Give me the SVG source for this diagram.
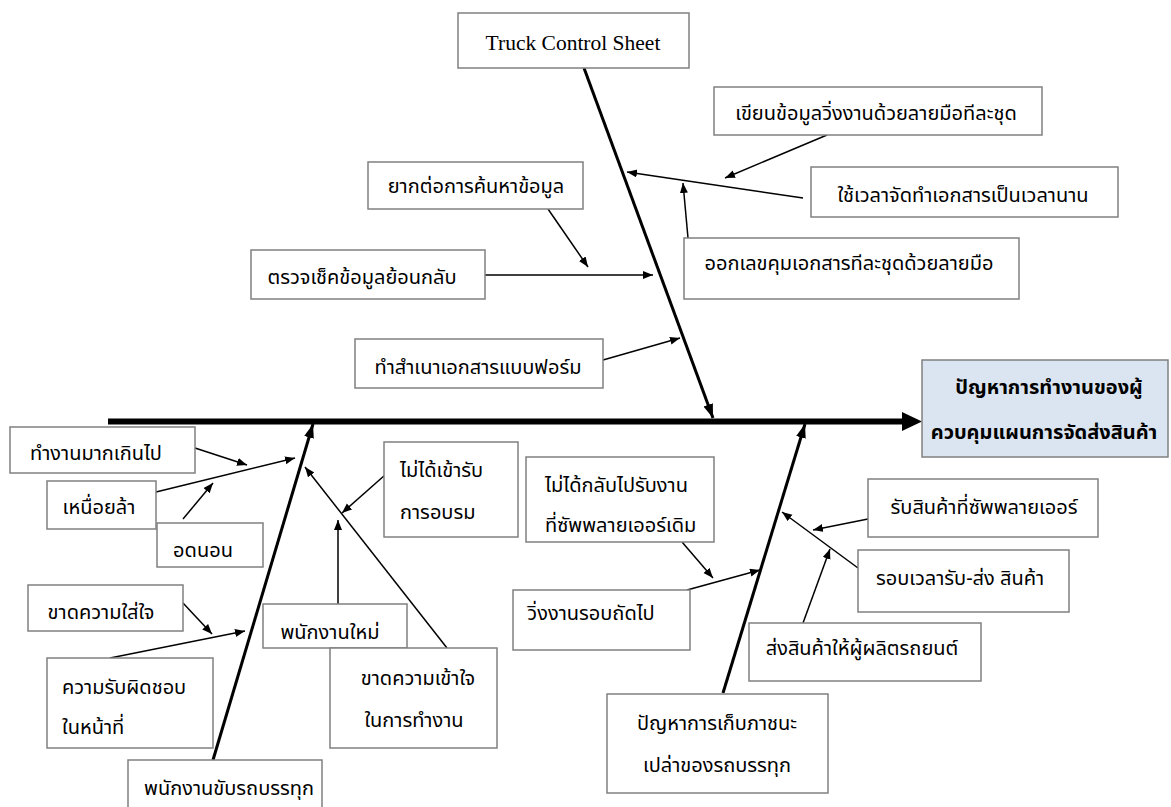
<svg xmlns="http://www.w3.org/2000/svg" width="1171" height="807" viewBox="0 0 1171 807">
<style>
.box{fill:#ffffff;stroke:#808080;stroke-width:1.5}
.eff{fill:#dbe5f1;stroke:#808080;stroke-width:1.5}
.t{font-family:"Noto Sans Thai","Noto Sans","DejaVu Sans",sans-serif;font-size:20px;fill:#000;text-anchor:middle}
.ts{font-family:"Noto Sans Thai","Noto Sans","DejaVu Sans",sans-serif;font-size:20px;fill:#000;text-anchor:start}
.b{font-weight:bold}
.en{font-family:"Liberation Serif","Times New Roman",serif;font-size:21.5px;fill:#000;text-anchor:middle}
.thin{stroke:#000;stroke-width:1.5;fill:none;marker-end:url(#ah)}
.spine{stroke:#000;stroke-width:3;fill:none;marker-end:url(#ahb)}
</style>
<defs>
<marker id="ah" markerUnits="userSpaceOnUse" markerWidth="11" markerHeight="9" refX="10" refY="4" orient="auto">
<path d="M0,0 L10,4 L0,8 z" fill="#000"/>
</marker>
<marker id="ahb" markerUnits="userSpaceOnUse" markerWidth="15" markerHeight="11" refX="14" refY="5" orient="auto">
<path d="M0,0 L14,5 L0,10 z" fill="#000"/>
</marker>
</defs>
<rect width="1171" height="807" fill="#ffffff"/>
<g id="connectors">
<line x1="108" y1="421.5" x2="904" y2="421.5" stroke="#000" stroke-width="6"/>
<polygon points="902,412 922,421.5 902,431" fill="#000"/>
<line class="spine" x1="584" y1="68" x2="713" y2="418"/>
<line class="spine" x1="213" y1="760" x2="313" y2="424"/>
<line class="spine" x1="723" y1="693" x2="805" y2="424"/>
<line class="thin" x1="827" y1="135" x2="725" y2="178"/>
<line class="thin" x1="803" y1="198" x2="627" y2="172"/>
<line class="thin" x1="688" y1="238" x2="683" y2="183"/>
<line class="thin" x1="548" y1="209" x2="588" y2="267"/>
<line class="thin" x1="485" y1="275" x2="653" y2="275"/>
<line class="thin" x1="603" y1="360" x2="680" y2="338"/>
<line class="thin" x1="195" y1="448" x2="247" y2="465"/>
<line class="thin" x1="156" y1="492" x2="295" y2="458"/>
<line class="thin" x1="183" y1="519" x2="213" y2="483"/>
<line class="thin" x1="447" y1="648" x2="305" y2="467"/>
<line class="thin" x1="385" y1="475" x2="342" y2="513"/>
<line class="thin" x1="338" y1="605" x2="338" y2="520"/>
<line class="thin" x1="183" y1="603" x2="212" y2="634"/>
<line class="thin" x1="110" y1="658" x2="245" y2="631"/>
<line class="thin" x1="682" y1="542" x2="713" y2="578"/>
<line class="thin" x1="687" y1="590" x2="760" y2="570"/>
<line class="thin" x1="868" y1="519" x2="813" y2="530"/>
<line class="thin" x1="858" y1="568" x2="782" y2="512"/>
<line class="thin" x1="803" y1="623" x2="830" y2="549"/>
</g>
<g id="n-truck"><rect class="box" x="458" y="13" width="231" height="55"/><text class="en" x="573" y="50">Truck Control Sheet</text></g>
<g id="n-write"><rect class="box" x="714" y="87" width="328" height="48"/><text class="t" x="876" y="120">เขียนข้อมูลวิ่งงานด้วยลายมือทีละชุด</text></g>
<g id="n-time"><rect class="box" x="811" y="167" width="307" height="50"/><text class="t" x="963" y="202">ใช้เวลาจัดทำเอกสารเป็นเวลานาน</text></g>
<g id="n-number"><rect class="box" x="684" y="238" width="335" height="61"/><text class="t" x="849" y="270">ออกเลขคุมเอกสารทีละชุดด้วยลายมือ</text></g>
<g id="n-search"><rect class="box" x="368" y="162" width="215" height="47"/><text class="t" x="476" y="193">ยากต่อการค้นหาข้อมูล</text></g>
<g id="n-check"><rect class="box" x="251" y="250" width="234" height="49"/><text class="t" x="362" y="284">ตรวจเช็คข้อมูลย้อนกลับ</text></g>
<g id="n-copy"><rect class="box" x="355" y="339" width="248" height="49"/><text class="t" x="478" y="374">ทำสำเนาเอกสารแบบฟอร์ม</text></g>
<g id="n-effect"><rect class="eff" x="922" y="360" width="246" height="97"/><text class="t b" x="1049" y="394">ปัญหาการทำงานของผู้</text><text class="t b" x="1044" y="439">ควบคุมแผนการจัดส่งสินค้า</text></g>
<g id="n-overwork"><rect class="box" x="10" y="427" width="185" height="46"/><text class="t" x="96" y="460">ทำงานมากเกินไป</text></g>
<g id="n-tired"><rect class="box" x="47" y="481" width="109" height="48"/><text class="t" x="99" y="514">เหนื่อยล้า</text></g>
<g id="n-sleep"><rect class="box" x="157" y="523" width="106" height="44"/><text class="t" x="203" y="557">อดนอน</text></g>
<g id="n-training"><rect class="box" x="384" y="442" width="134" height="95"/><text class="ts" x="400" y="477">ไม่ได้เข้ารับ</text><text class="ts" x="400" y="519">การอบรม</text></g>
<g id="n-newstaff"><rect class="box" x="263" y="604" width="144" height="44"/><text class="t" x="330" y="639">พนักงานใหม่</text></g>
<g id="n-understand"><rect class="box" x="330" y="648" width="167" height="100"/><text class="t" x="418" y="685">ขาดความเข้าใจ</text><text class="t" x="414" y="727">ในการทำงาน</text></g>
<g id="n-attention"><rect class="box" x="28" y="585" width="155" height="46"/><text class="t" x="101" y="619">ขาดความใส่ใจ</text></g>
<g id="n-responsibility"><rect class="box" x="47" y="658" width="166" height="90"/><text class="ts" x="62" y="694">ความรับผิดชอบ</text><text class="ts" x="62" y="734">ในหน้าที่</text></g>
<g id="n-driver"><rect class="box" x="128" y="760" width="194" height="60"/><text class="t" x="229" y="795">พนักงานขับรถบรรทุก</text></g>
<g id="n-notreturn"><rect class="box" x="526" y="457" width="188" height="85"/><text class="ts" x="545" y="492">ไม่ได้กลับไปรับงาน</text><text class="ts" x="545" y="532">ที่ซัพพลายเออร์เดิม</text></g>
<g id="n-nextround"><rect class="box" x="513" y="590" width="177" height="60"/><text class="t" x="591" y="620">วิ่งงานรอบถัดไป</text></g>
<g id="n-container"><rect class="box" x="607" y="694" width="221" height="99"/><text class="t" x="717" y="730">ปัญหาการเก็บภาชนะ</text><text class="t" x="717" y="772">เปล่าของรถบรรทุก</text></g>
<g id="n-receive"><rect class="box" x="868" y="479" width="230" height="58"/><text class="t" x="984" y="514">รับสินค้าที่ซัพพลายเออร์</text></g>
<g id="n-round"><rect class="box" x="858" y="550" width="211" height="62"/><text class="t" x="960" y="585">รอบเวลารับ-ส่ง สินค้า</text></g>
<g id="n-deliver"><rect class="box" x="749" y="623" width="232" height="58"/><text class="t" x="862" y="655">ส่งสินค้าให้ผู้ผลิตรถยนต์</text></g>
</svg>
